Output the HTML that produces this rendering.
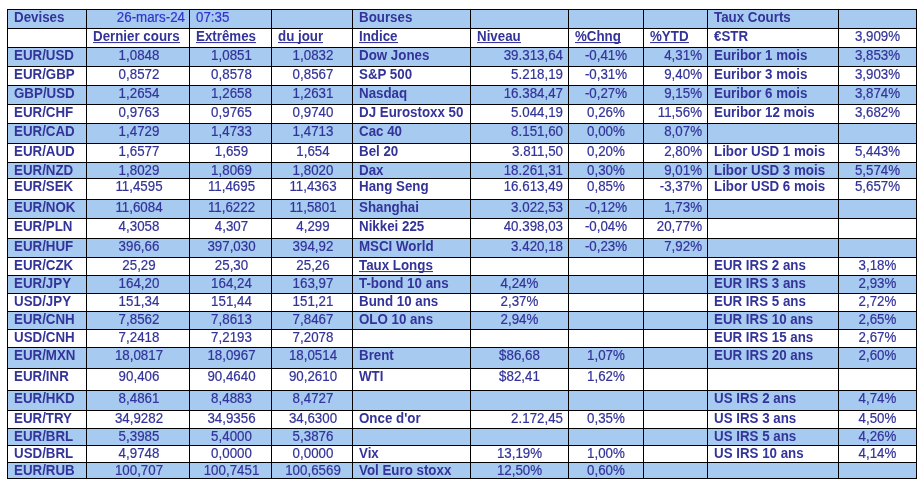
<!DOCTYPE html>
<html><head><meta charset="utf-8"><title>Marches</title>
<style>
html,body{margin:0;padding:0;background:#fff;}
body{width:924px;height:485px;position:relative;overflow:hidden;font-family:"Liberation Sans",sans-serif;font-size:13.33px;line-height:15px;color:#333399;}
.r{position:absolute;left:8px;width:908px;}
.z{background:#A6CAF0;}
.h{position:absolute;left:7px;width:910px;height:1px;background:#000;}
.v{position:absolute;top:9px;height:470px;width:1px;background:#000;}
.t{position:absolute;white-space:nowrap;height:15px;overflow:visible;transform:scaleY(1.06);transform-origin:0 12px;will-change:transform;-webkit-text-stroke:0.2px currentColor;}
.b{font-weight:bold;-webkit-text-stroke:0;transform:scaleY(1.035);}
.b.z2{-webkit-text-stroke-color:#A6CAF0;}
.u>span{display:inline-block;position:relative;}
.u>span::after{content:'';position:absolute;left:0;right:0;top:13px;height:1px;background:#333399;}
.c{text-align:center;}
.rt{text-align:right;}
.k{color:#3333CC;}
</style></head><body>

<div class="r z" style="top:10px;height:18px"></div>
<div class="r z" style="top:48px;height:18px"></div>
<div class="r z" style="top:86px;height:18px"></div>
<div class="r z" style="top:124px;height:19px"></div>
<div class="r z" style="top:163px;height:15px"></div>
<div class="r z" style="top:200px;height:18px"></div>
<div class="r z" style="top:239px;height:18px"></div>
<div class="r z" style="top:276px;height:17px"></div>
<div class="r z" style="top:312px;height:17px"></div>
<div class="r z" style="top:348px;height:20px"></div>
<div class="r z" style="top:391px;height:19px"></div>
<div class="r z" style="top:429px;height:16px"></div>
<div class="r z" style="top:463px;height:15px"></div>
<div class="h" style="top:9px"></div>
<div class="h" style="top:28px"></div>
<div class="h" style="top:47px"></div>
<div class="h" style="top:66px"></div>
<div class="h" style="top:85px"></div>
<div class="h" style="top:104px"></div>
<div class="h" style="top:123px"></div>
<div class="h" style="top:143px"></div>
<div class="h" style="top:162px"></div>
<div class="h" style="top:178px"></div>
<div class="h" style="top:199px"></div>
<div class="h" style="top:218px"></div>
<div class="h" style="top:238px"></div>
<div class="h" style="top:257px"></div>
<div class="h" style="top:275px"></div>
<div class="h" style="top:293px"></div>
<div class="h" style="top:311px"></div>
<div class="h" style="top:329px"></div>
<div class="h" style="top:347px"></div>
<div class="h" style="top:368px"></div>
<div class="h" style="top:390px"></div>
<div class="h" style="top:410px"></div>
<div class="h" style="top:428px"></div>
<div class="h" style="top:445px"></div>
<div class="h" style="top:462px"></div>
<div class="h" style="top:478px"></div>
<div class="v" style="left:7px"></div>
<div class="v" style="left:86px"></div>
<div class="v" style="left:189px"></div>
<div class="v" style="left:271px"></div>
<div class="v" style="left:352px"></div>
<div class="v" style="left:470px"></div>
<div class="v" style="left:568px"></div>
<div class="v" style="left:643px"></div>
<div class="v" style="left:707px"></div>
<div class="v" style="left:838px"></div>
<div class="v" style="left:916px"></div>
<div class="t z2 b" style="top:10px;left:14px;width:72px">Devises</div>
<div class="t z2 k rt" style="top:10px;left:88px;width:97px">26-mars-24</div>
<div class="t z2 k" style="top:10px;left:196px;width:75px">07:35</div>
<div class="t z2 b" style="top:10px;left:359px;width:111px">Bourses</div>
<div class="t z2 b" style="top:10px;left:714px;width:124px">Taux Courts</div>
<div class="t b u" style="top:29px;left:93px;width:96px"><span>Dernier cours</span></div>
<div class="t b u" style="top:29px;left:196px;width:75px"><span>Extrêmes</span></div>
<div class="t b u" style="top:29px;left:278px;width:74px"><span>du jour</span></div>
<div class="t b u" style="top:29px;left:359px;width:111px"><span>Indice</span></div>
<div class="t b u" style="top:29px;left:477px;width:91px"><span>Niveau</span></div>
<div class="t b u" style="top:29px;left:575px;width:68px"><span>%Chng</span></div>
<div class="t b u" style="top:29px;left:650px;width:57px"><span>%YTD</span></div>
<div class="t b" style="top:29px;left:714px;width:124px">€STR</div>
<div class="t c" style="top:29px;left:839.4px;width:77px">3,909%</div>
<div class="t z2 b" style="top:48px;left:14px;width:72px">EUR/USD</div>
<div class="t z2 c" style="top:48px;left:88px;width:102px">1,0848</div>
<div class="t z2 c" style="top:48px;left:190.5px;width:81px">1,0851</div>
<div class="t z2 c" style="top:48px;left:272.5px;width:80px">1,0832</div>
<div class="t z2 b" style="top:48px;left:359px;width:111px">Dow Jones</div>
<div class="t z2 rt" style="top:48px;left:471px;width:92px">39.313,64</div>
<div class="t z2 c" style="top:48px;left:569.3px;width:74px">-0,41%</div>
<div class="t z2 rt" style="top:48px;left:644px;width:58px">4,31%</div>
<div class="t z2 b" style="top:48px;left:714px;width:124px">Euribor 1 mois</div>
<div class="t z2 c" style="top:48px;left:839.4px;width:77px">3,853%</div>
<div class="t b" style="top:67px;left:14px;width:72px">EUR/GBP</div>
<div class="t c" style="top:67px;left:88px;width:102px">0,8572</div>
<div class="t c" style="top:67px;left:190.5px;width:81px">0,8578</div>
<div class="t c" style="top:67px;left:272.5px;width:80px">0,8567</div>
<div class="t b" style="top:67px;left:359px;width:111px">S&amp;P 500</div>
<div class="t rt" style="top:67px;left:471px;width:92px">5.218,19</div>
<div class="t c" style="top:67px;left:569.3px;width:74px">-0,31%</div>
<div class="t rt" style="top:67px;left:644px;width:58px">9,40%</div>
<div class="t b" style="top:67px;left:714px;width:124px">Euribor 3 mois</div>
<div class="t c" style="top:67px;left:839.4px;width:77px">3,903%</div>
<div class="t z2 b" style="top:86px;left:14px;width:72px">GBP/USD</div>
<div class="t z2 c" style="top:86px;left:88px;width:102px">1,2654</div>
<div class="t z2 c" style="top:86px;left:190.5px;width:81px">1,2658</div>
<div class="t z2 c" style="top:86px;left:272.5px;width:80px">1,2631</div>
<div class="t z2 b" style="top:86px;left:359px;width:111px">Nasdaq</div>
<div class="t z2 rt" style="top:86px;left:471px;width:92px">16.384,47</div>
<div class="t z2 c" style="top:86px;left:569.3px;width:74px">-0,27%</div>
<div class="t z2 rt" style="top:86px;left:644px;width:58px">9,15%</div>
<div class="t z2 b" style="top:86px;left:714px;width:124px">Euribor 6 mois</div>
<div class="t z2 c" style="top:86px;left:839.4px;width:77px">3,874%</div>
<div class="t b" style="top:105px;left:14px;width:72px">EUR/CHF</div>
<div class="t c" style="top:105px;left:88px;width:102px">0,9763</div>
<div class="t c" style="top:105px;left:190.5px;width:81px">0,9765</div>
<div class="t c" style="top:105px;left:272.5px;width:80px">0,9740</div>
<div class="t b" style="top:105px;left:359px;width:111px">DJ Eurostoxx 50</div>
<div class="t rt" style="top:105px;left:471px;width:92px">5.044,19</div>
<div class="t c" style="top:105px;left:569.3px;width:74px">0,26%</div>
<div class="t rt" style="top:105px;left:644px;width:58px">11,56%</div>
<div class="t b" style="top:105px;left:714px;width:124px">Euribor 12 mois</div>
<div class="t c" style="top:105px;left:839.4px;width:77px">3,682%</div>
<div class="t z2 b" style="top:124px;left:14px;width:72px">EUR/CAD</div>
<div class="t z2 c" style="top:124px;left:88px;width:102px">1,4729</div>
<div class="t z2 c" style="top:124px;left:190.5px;width:81px">1,4733</div>
<div class="t z2 c" style="top:124px;left:272.5px;width:80px">1,4713</div>
<div class="t z2 b" style="top:124px;left:359px;width:111px">Cac 40</div>
<div class="t z2 rt" style="top:124px;left:471px;width:92px">8.151,60</div>
<div class="t z2 c" style="top:124px;left:569.3px;width:74px">0,00%</div>
<div class="t z2 rt" style="top:124px;left:644px;width:58px">8,07%</div>
<div class="t b" style="top:144px;left:14px;width:72px">EUR/AUD</div>
<div class="t c" style="top:144px;left:88px;width:102px">1,6577</div>
<div class="t c" style="top:144px;left:190.5px;width:81px">1,659</div>
<div class="t c" style="top:144px;left:272.5px;width:80px">1,654</div>
<div class="t b" style="top:144px;left:359px;width:111px">Bel 20</div>
<div class="t rt" style="top:144px;left:471px;width:92px">3.811,50</div>
<div class="t c" style="top:144px;left:569.3px;width:74px">0,20%</div>
<div class="t rt" style="top:144px;left:644px;width:58px">2,80%</div>
<div class="t b" style="top:144px;left:714px;width:124px">Libor USD 1 mois</div>
<div class="t c" style="top:144px;left:839.4px;width:77px">5,443%</div>
<div class="t z2 b" style="top:163px;left:14px;width:72px">EUR/NZD</div>
<div class="t z2 c" style="top:163px;left:88px;width:102px">1,8029</div>
<div class="t z2 c" style="top:163px;left:190.5px;width:81px">1,8069</div>
<div class="t z2 c" style="top:163px;left:272.5px;width:80px">1,8020</div>
<div class="t z2 b" style="top:163px;left:359px;width:111px">Dax</div>
<div class="t z2 rt" style="top:163px;left:471px;width:92px">18.261,31</div>
<div class="t z2 c" style="top:163px;left:569.3px;width:74px">0,30%</div>
<div class="t z2 rt" style="top:163px;left:644px;width:58px">9,01%</div>
<div class="t z2 b" style="top:163px;left:714px;width:124px">Libor USD 3 mois</div>
<div class="t z2 c" style="top:163px;left:839.4px;width:77px">5,574%</div>
<div class="t b" style="top:179px;left:14px;width:72px">EUR/SEK</div>
<div class="t c" style="top:179px;left:88px;width:102px">11,4595</div>
<div class="t c" style="top:179px;left:190.5px;width:81px">11,4695</div>
<div class="t c" style="top:179px;left:272.5px;width:80px">11,4363</div>
<div class="t b" style="top:179px;left:359px;width:111px">Hang Seng</div>
<div class="t rt" style="top:179px;left:471px;width:92px">16.613,49</div>
<div class="t c" style="top:179px;left:569.3px;width:74px">0,85%</div>
<div class="t rt" style="top:179px;left:644px;width:58px">-3,37%</div>
<div class="t b" style="top:179px;left:714px;width:124px">Libor USD 6 mois</div>
<div class="t c" style="top:179px;left:839.4px;width:77px">5,657%</div>
<div class="t z2 b" style="top:200px;left:14px;width:72px">EUR/NOK</div>
<div class="t z2 c" style="top:200px;left:88px;width:102px">11,6084</div>
<div class="t z2 c" style="top:200px;left:190.5px;width:81px">11,6222</div>
<div class="t z2 c" style="top:200px;left:272.5px;width:80px">11,5801</div>
<div class="t z2 b" style="top:200px;left:359px;width:111px">Shanghai</div>
<div class="t z2 rt" style="top:200px;left:471px;width:92px">3.022,53</div>
<div class="t z2 c" style="top:200px;left:569.3px;width:74px">-0,12%</div>
<div class="t z2 rt" style="top:200px;left:644px;width:58px">1,73%</div>
<div class="t b" style="top:219px;left:14px;width:72px">EUR/PLN</div>
<div class="t c" style="top:219px;left:88px;width:102px">4,3058</div>
<div class="t c" style="top:219px;left:190.5px;width:81px">4,307</div>
<div class="t c" style="top:219px;left:272.5px;width:80px">4,299</div>
<div class="t b" style="top:219px;left:359px;width:111px">Nikkei 225</div>
<div class="t rt" style="top:219px;left:471px;width:92px">40.398,03</div>
<div class="t c" style="top:219px;left:569.3px;width:74px">-0,04%</div>
<div class="t rt" style="top:219px;left:644px;width:58px">20,77%</div>
<div class="t z2 b" style="top:239px;left:14px;width:72px">EUR/HUF</div>
<div class="t z2 c" style="top:239px;left:88px;width:102px">396,66</div>
<div class="t z2 c" style="top:239px;left:190.5px;width:81px">397,030</div>
<div class="t z2 c" style="top:239px;left:272.5px;width:80px">394,92</div>
<div class="t z2 b" style="top:239px;left:359px;width:111px">MSCI World</div>
<div class="t z2 rt" style="top:239px;left:471px;width:92px">3.420,18</div>
<div class="t z2 c" style="top:239px;left:569.3px;width:74px">-0,23%</div>
<div class="t z2 rt" style="top:239px;left:644px;width:58px">7,92%</div>
<div class="t b" style="top:258px;left:14px;width:72px">EUR/CZK</div>
<div class="t c" style="top:258px;left:88px;width:102px">25,29</div>
<div class="t c" style="top:258px;left:190.5px;width:81px">25,30</div>
<div class="t c" style="top:258px;left:272.5px;width:80px">25,26</div>
<div class="t b u" style="top:258px;left:359px;width:111px"><span>Taux Longs</span></div>
<div class="t b" style="top:258px;left:714px;width:124px">EUR IRS 2 ans</div>
<div class="t c" style="top:258px;left:839.4px;width:77px">3,18%</div>
<div class="t z2 b" style="top:276px;left:14px;width:72px">EUR/JPY</div>
<div class="t z2 c" style="top:276px;left:88px;width:102px">164,20</div>
<div class="t z2 c" style="top:276px;left:190.5px;width:81px">164,24</div>
<div class="t z2 c" style="top:276px;left:272.5px;width:80px">163,97</div>
<div class="t z2 b" style="top:276px;left:359px;width:111px">T-bond 10 ans</div>
<div class="t z2 c" style="top:276px;left:471.3px;width:97px">4,24%</div>
<div class="t z2 b" style="top:276px;left:714px;width:124px">EUR IRS 3 ans</div>
<div class="t z2 c" style="top:276px;left:839.4px;width:77px">2,93%</div>
<div class="t b" style="top:294px;left:14px;width:72px">USD/JPY</div>
<div class="t c" style="top:294px;left:88px;width:102px">151,34</div>
<div class="t c" style="top:294px;left:190.5px;width:81px">151,44</div>
<div class="t c" style="top:294px;left:272.5px;width:80px">151,21</div>
<div class="t b" style="top:294px;left:359px;width:111px">Bund 10 ans</div>
<div class="t c" style="top:294px;left:471.3px;width:97px">2,37%</div>
<div class="t b" style="top:294px;left:714px;width:124px">EUR IRS 5 ans</div>
<div class="t c" style="top:294px;left:839.4px;width:77px">2,72%</div>
<div class="t z2 b" style="top:312px;left:14px;width:72px">EUR/CNH</div>
<div class="t z2 c" style="top:312px;left:88px;width:102px">7,8562</div>
<div class="t z2 c" style="top:312px;left:190.5px;width:81px">7,8613</div>
<div class="t z2 c" style="top:312px;left:272.5px;width:80px">7,8467</div>
<div class="t z2 b" style="top:312px;left:359px;width:111px">OLO 10 ans</div>
<div class="t z2 c" style="top:312px;left:471.3px;width:97px">2,94%</div>
<div class="t z2 b" style="top:312px;left:714px;width:124px">EUR IRS 10 ans</div>
<div class="t z2 c" style="top:312px;left:839.4px;width:77px">2,65%</div>
<div class="t b" style="top:330px;left:14px;width:72px">USD/CNH</div>
<div class="t c" style="top:330px;left:88px;width:102px">7,2418</div>
<div class="t c" style="top:330px;left:190.5px;width:81px">7,2193</div>
<div class="t c" style="top:330px;left:272.5px;width:80px">7,2078</div>
<div class="t b" style="top:330px;left:714px;width:124px">EUR IRS 15 ans</div>
<div class="t c" style="top:330px;left:839.4px;width:77px">2,67%</div>
<div class="t z2 b" style="top:348px;left:14px;width:72px">EUR/MXN</div>
<div class="t z2 c" style="top:348px;left:88px;width:102px">18,0817</div>
<div class="t z2 c" style="top:348px;left:190.5px;width:81px">18,0967</div>
<div class="t z2 c" style="top:348px;left:272.5px;width:80px">18,0514</div>
<div class="t z2 b" style="top:348px;left:359px;width:111px">Brent</div>
<div class="t z2 c" style="top:348px;left:471.3px;width:97px">$86,68</div>
<div class="t z2 c" style="top:348px;left:569.3px;width:74px">1,07%</div>
<div class="t z2 b" style="top:348px;left:714px;width:124px">EUR IRS 20 ans</div>
<div class="t z2 c" style="top:348px;left:839.4px;width:77px">2,60%</div>
<div class="t b" style="top:369px;left:14px;width:72px">EUR/INR</div>
<div class="t c" style="top:369px;left:88px;width:102px">90,406</div>
<div class="t c" style="top:369px;left:190.5px;width:81px">90,4640</div>
<div class="t c" style="top:369px;left:272.5px;width:80px">90,2610</div>
<div class="t b" style="top:369px;left:359px;width:111px">WTI</div>
<div class="t c" style="top:369px;left:471.3px;width:97px">$82,41</div>
<div class="t c" style="top:369px;left:569.3px;width:74px">1,62%</div>
<div class="t z2 b" style="top:391px;left:14px;width:72px">EUR/HKD</div>
<div class="t z2 c" style="top:391px;left:88px;width:102px">8,4861</div>
<div class="t z2 c" style="top:391px;left:190.5px;width:81px">8,4883</div>
<div class="t z2 c" style="top:391px;left:272.5px;width:80px">8,4727</div>
<div class="t z2 b" style="top:391px;left:714px;width:124px">US IRS 2 ans</div>
<div class="t z2 c" style="top:391px;left:839.4px;width:77px">4,74%</div>
<div class="t b" style="top:411px;left:14px;width:72px">EUR/TRY</div>
<div class="t c" style="top:411px;left:88px;width:102px">34,9282</div>
<div class="t c" style="top:411px;left:190.5px;width:81px">34,9356</div>
<div class="t c" style="top:411px;left:272.5px;width:80px">34,6300</div>
<div class="t b" style="top:411px;left:359px;width:111px">Once d'or</div>
<div class="t rt" style="top:411px;left:471px;width:92px">2.172,45</div>
<div class="t c" style="top:411px;left:569.3px;width:74px">0,35%</div>
<div class="t b" style="top:411px;left:714px;width:124px">US IRS 3 ans</div>
<div class="t c" style="top:411px;left:839.4px;width:77px">4,50%</div>
<div class="t z2 b" style="top:429px;left:14px;width:72px">EUR/BRL</div>
<div class="t z2 c" style="top:429px;left:88px;width:102px">5,3985</div>
<div class="t z2 c" style="top:429px;left:190.5px;width:81px">5,4000</div>
<div class="t z2 c" style="top:429px;left:272.5px;width:80px">5,3876</div>
<div class="t z2 b" style="top:429px;left:714px;width:124px">US IRS 5 ans</div>
<div class="t z2 c" style="top:429px;left:839.4px;width:77px">4,26%</div>
<div class="t b" style="top:446px;left:14px;width:72px">USD/BRL</div>
<div class="t c" style="top:446px;left:88px;width:102px">4,9748</div>
<div class="t c" style="top:446px;left:190.5px;width:81px">0,0000</div>
<div class="t c" style="top:446px;left:272.5px;width:80px">0,0000</div>
<div class="t b" style="top:446px;left:359px;width:111px">Vix</div>
<div class="t c" style="top:446px;left:471.3px;width:97px">13,19%</div>
<div class="t c" style="top:446px;left:569.3px;width:74px">1,00%</div>
<div class="t b" style="top:446px;left:714px;width:124px">US IRS 10 ans</div>
<div class="t c" style="top:446px;left:839.4px;width:77px">4,14%</div>
<div class="t z2 b" style="top:463px;left:14px;width:72px">EUR/RUB</div>
<div class="t z2 c" style="top:463px;left:88px;width:102px">100,707</div>
<div class="t z2 c" style="top:463px;left:190.5px;width:81px">100,7451</div>
<div class="t z2 c" style="top:463px;left:272.5px;width:80px">100,6569</div>
<div class="t z2 b" style="top:463px;left:359px;width:111px">Vol Euro stoxx</div>
<div class="t z2 c" style="top:463px;left:471.3px;width:97px">12,50%</div>
<div class="t z2 c" style="top:463px;left:569.3px;width:74px">0,60%</div>
</body></html>
